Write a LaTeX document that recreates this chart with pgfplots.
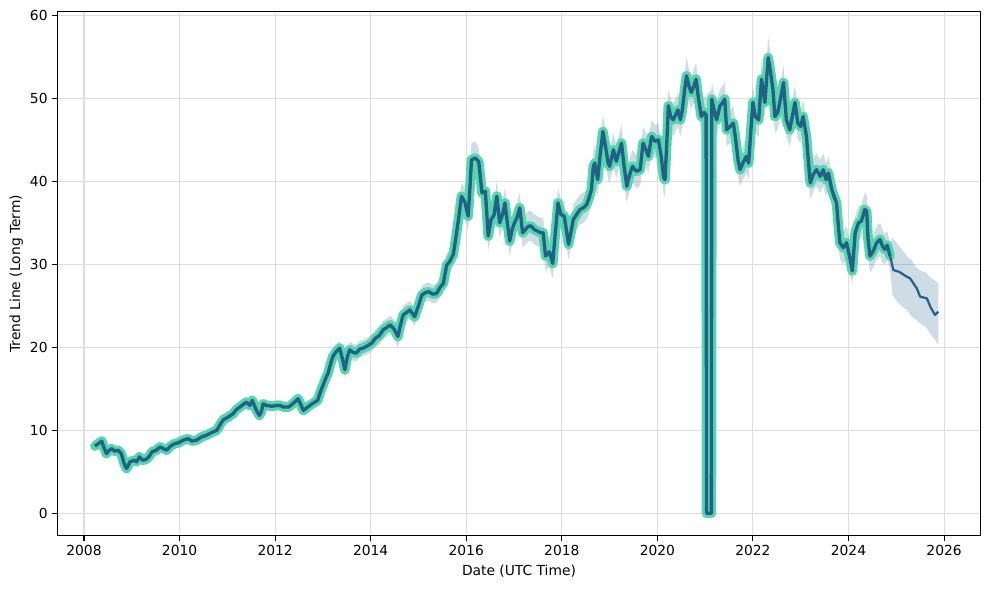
\documentclass[border=0pt]{standalone}
\usepackage{fontspec}
\setmainfont{DejaVu Sans}
\usepackage{pgfplots}
\usepackage{pgfplotstable}
\pgfplotsset{compat=1.18}
\usepgfplotslibrary{fillbetween}
\usetikzlibrary{calc}
\definecolor{darkline}{RGB}{33,96,135}
\definecolor{halo}{RGB}{86,214,172}
\definecolor{gridc}{RGB}{222,222,222}

\pgfplotstableread{
x y lo hi
2008.23 8.1 7.7 8.6
2008.30 8.4 7.9 8.9
2008.37 8.7 8.2 9.2
2008.42 7.9 7.4 8.4
2008.47 7.2 6.7 7.7
2008.53 7.6 7.1 8.1
2008.58 7.8 7.3 8.3
2008.64 7.5 7.0 8.0
2008.71 7.6 7.1 8.1
2008.78 7.2 6.7 7.7
2008.84 6.0 5.5 6.5
2008.89 5.4 4.9 5.9
2008.93 5.8 5.3 6.3
2008.96 6.2 5.7 6.7
2009.05 6.4 5.9 6.9
2009.10 6.2 5.7 6.7
2009.16 6.8 6.3 7.3
2009.23 6.4 5.9 6.9
2009.30 6.5 6.0 7.0
2009.37 6.9 6.4 7.4
2009.42 7.4 6.9 7.9
2009.51 7.6 7.1 8.1
2009.59 8.0 7.5 8.5
2009.66 7.8 7.3 8.3
2009.73 7.6 7.1 8.1
2009.81 8.1 7.6 8.6
2009.90 8.4 7.9 8.9
2009.98 8.5 8.0 9.0
2010.07 8.8 8.3 9.3
2010.18 9.0 8.5 9.5
2010.26 8.7 8.2 9.2
2010.35 8.8 8.3 9.3
2010.46 9.2 8.7 9.7
2010.56 9.4 8.9 9.9
2010.66 9.7 9.2 10.2
2010.78 10.0 9.5 10.5
2010.86 10.8 10.2 11.4
2010.92 11.3 10.7 11.9
2011.02 11.6 11.0 12.2
2011.12 12.0 11.4 12.6
2011.19 12.5 11.9 13.1
2011.26 12.8 12.2 13.4
2011.33 13.1 12.5 13.7
2011.40 13.4 12.8 14.0
2011.47 13.0 12.4 13.6
2011.52 13.6 13.0 14.2
2011.61 12.4 11.8 13.0
2011.67 11.8 11.2 12.4
2011.71 12.2 11.6 12.8
2011.75 13.2 12.6 13.8
2011.82 13.0 12.4 13.6
2011.93 12.9 12.3 13.5
2012.04 13.0 12.4 13.6
2012.10 13.0 12.4 13.6
2012.18 12.8 12.2 13.4
2012.28 12.8 12.2 13.4
2012.37 13.2 12.6 13.8
2012.48 13.8 13.2 14.4
2012.53 13.2 12.6 13.8
2012.59 12.4 11.8 13.0
2012.68 12.8 12.2 13.4
2012.75 13.1 12.5 13.7
2012.83 13.4 12.8 14.0
2012.89 13.6 13.0 14.2
2012.94 14.5 13.9 15.1
2013.00 15.4 14.7 16.1
2013.06 16.3 15.5 17.1
2013.11 16.9 16.0 17.8
2013.16 18.0 17.1 18.9
2013.21 18.9 18.0 19.8
2013.28 19.5 18.6 20.4
2013.35 19.9 19.0 20.8
2013.41 18.6 17.6 19.6
2013.46 17.3 16.3 18.3
2013.51 18.8 17.8 19.8
2013.56 19.7 18.7 20.7
2013.63 19.4 18.4 20.4
2013.70 19.3 18.3 20.3
2013.77 19.8 18.8 20.8
2013.84 19.9 18.9 20.9
2013.94 20.2 19.2 21.2
2014.02 20.5 19.5 21.5
2014.10 21.1 20.0 22.2
2014.18 21.4 20.3 22.5
2014.26 22.1 21.0 23.2
2014.34 22.4 21.3 23.5
2014.41 22.7 21.6 23.8
2014.49 22.2 21.1 23.3
2014.57 21.3 20.0 22.4
2014.62 22.6 21.5 23.7
2014.68 23.9 22.8 25.0
2014.75 24.2 23.1 25.3
2014.82 24.5 23.4 25.6
2014.92 23.7 22.6 24.8
2015.00 25.0 23.9 26.1
2015.07 26.3 25.2 27.4
2015.15 26.6 25.5 27.7
2015.22 26.7 25.6 27.8
2015.30 26.4 25.3 27.5
2015.38 26.5 25.4 27.6
2015.45 27.2 26.0 28.4
2015.52 27.7 26.5 28.9
2015.59 29.9 28.5 31.3
2015.65 30.3 28.9 31.7
2015.73 31.2 29.8 32.6
2015.79 33.5 32.0 35.0
2015.84 35.5 34.0 37.0
2015.90 38.2 36.6 39.8
2015.97 37.5 35.9 39.1
2016.04 35.8 34.0 37.6
2016.08 39.5 37.8 41.5
2016.11 42.6 40.8 44.6
2016.19 42.8 41.0 44.8
2016.26 42.4 40.6 44.0
2016.33 38.6 36.8 40.2
2016.40 38.8 37.0 40.6
2016.46 33.4 31.6 35.0
2016.52 35.4 33.6 37.2
2016.58 35.9 34.1 37.7
2016.64 38.2 36.4 40.0
2016.70 35.0 33.2 36.8
2016.76 36.0 34.2 37.8
2016.81 37.4 35.6 39.2
2016.86 35.0 33.2 36.8
2016.91 32.8 31.0 34.6
2016.96 34.2 32.4 36.0
2017.01 35.0 33.2 36.8
2017.06 35.6 33.8 37.4
2017.12 36.8 35.0 38.6
2017.18 33.8 32.0 35.6
2017.24 34.2 32.4 36.0
2017.30 34.6 32.8 36.4
2017.36 34.6 32.8 36.4
2017.42 34.2 32.4 36.0
2017.49 34.0 32.2 35.8
2017.56 33.8 32.0 35.6
2017.61 33.8 32.0 35.6
2017.66 31.0 29.2 32.8
2017.74 31.5 29.7 33.3
2017.81 30.1 28.3 31.9
2017.86 33.5 31.7 35.3
2017.92 37.4 35.6 39.2
2017.98 36.0 34.2 37.8
2018.05 35.8 34.0 37.6
2018.10 34.0 32.2 35.8
2018.14 32.4 30.6 34.2
2018.19 33.8 32.0 35.6
2018.24 35.4 33.6 37.2
2018.31 36.0 34.2 37.8
2018.38 36.6 34.8 38.4
2018.45 36.8 35.0 38.6
2018.52 37.2 35.4 39.0
2018.57 38.0 36.2 39.8
2018.62 39.0 37.0 41.0
2018.66 41.8 39.8 43.8
2018.69 42.2 40.2 44.4
2018.75 40.2 38.2 42.2
2018.80 43.0 41.0 45.0
2018.86 46.0 44.0 48.0
2018.92 44.0 42.0 46.0
2018.97 42.2 40.2 44.2
2019.00 41.8 39.8 43.8
2019.05 43.0 41.0 45.0
2019.08 43.8 41.8 45.8
2019.14 42.4 40.4 44.4
2019.18 43.2 41.2 45.2
2019.25 44.6 42.6 46.8
2019.30 42.0 40.0 44.0
2019.36 39.4 37.4 41.4
2019.42 40.8 38.8 42.8
2019.48 41.8 39.8 43.8
2019.56 41.2 39.2 43.2
2019.64 41.4 39.4 43.4
2019.70 44.6 42.6 46.6
2019.76 43.8 41.8 45.8
2019.81 43.0 41.0 45.0
2019.88 45.4 43.4 47.4
2019.95 44.8 42.8 46.8
2020.02 45.0 43.0 47.0
2020.08 43.0 41.0 45.0
2020.13 40.5 38.5 42.5
2020.16 40.2 38.2 42.2
2020.20 45.0 43.0 47.0
2020.23 49.1 47.1 51.1
2020.28 47.8 45.8 49.8
2020.33 47.4 45.4 49.4
2020.38 48.0 46.0 50.0
2020.43 48.6 46.6 50.6
2020.48 47.4 45.4 49.4
2020.52 48.5 46.5 50.5
2020.57 51.0 49.0 53.0
2020.61 52.7 50.5 55.0
2020.66 51.5 49.5 53.5
2020.71 50.7 48.7 52.7
2020.76 51.4 49.4 53.4
2020.81 52.3 50.3 54.3
2020.86 50.0 48.0 52.0
2020.92 47.8 45.8 49.8
2020.98 48.3 46.3 50.3
2021.02 48.0 46.0 50.0
2021.03 0 46.0 50.5
2021.13 0 46.5 51.0
2021.14 49.9 47.9 51.9
2021.19 48.5 46.5 50.5
2021.24 47.4 45.4 49.4
2021.31 49.1 47.1 51.1
2021.37 49.5 47.5 51.5
2021.41 49.9 47.9 51.9
2021.45 46.2 44.2 48.2
2021.52 46.6 44.6 48.6
2021.59 47.0 45.0 49.0
2021.64 45.0 43.0 47.0
2021.69 42.5 40.5 44.5
2021.73 41.4 39.4 43.4
2021.79 42.2 40.2 44.2
2021.86 43.0 41.0 45.0
2021.91 42.2 40.2 44.2
2021.95 45.5 43.5 47.5
2022.00 49.5 47.5 51.5
2022.05 47.8 45.8 49.8
2022.12 47.4 45.4 49.4
2022.18 52.3 50.3 54.5
2022.25 49.5 47.5 51.5
2022.32 54.9 52.7 57.5
2022.37 53.1 51.1 55.1
2022.42 51.0 49.0 53.0
2022.46 47.8 45.8 49.8
2022.52 48.3 46.3 50.3
2022.58 50.0 48.0 52.0
2022.64 51.9 49.9 54.0
2022.70 47.4 45.4 49.4
2022.77 46.2 44.2 48.2
2022.83 48.0 46.0 50.0
2022.88 49.5 47.5 51.5
2022.94 47.0 45.0 49.0
2023.00 46.6 44.6 48.6
2023.05 47.8 45.8 49.8
2023.12 45.4 43.4 47.4
2023.16 42.5 40.5 44.5
2023.20 39.8 37.8 41.8
2023.26 40.8 38.8 42.8
2023.33 41.4 39.4 43.4
2023.41 40.6 38.6 42.6
2023.47 41.4 39.4 43.4
2023.53 40.2 38.2 42.2
2023.58 41.0 39.0 43.0
2023.65 39.0 37.0 41.0
2023.71 38.0 36.0 40.0
2023.75 37.4 35.4 39.4
2023.79 34.5 32.5 36.5
2023.82 32.6 30.6 34.6
2023.89 32.0 30.0 34.0
2023.96 32.6 30.6 34.6
2024.02 31.0 29.0 33.0
2024.08 29.2 27.6 31.0
2024.14 33.8 31.8 35.8
2024.21 35.0 33.0 37.0
2024.27 35.2 33.2 37.2
2024.34 36.6 34.6 38.6
2024.38 36.4 34.4 38.4
2024.41 33.0 31.0 35.0
2024.45 31.0 29.0 33.0
2024.51 31.5 29.5 33.5
2024.59 32.6 30.6 34.6
2024.66 33.0 31.0 35.0
2024.71 32.2 30.2 34.2
2024.76 31.8 30.0 33.6
2024.81 32.3 30.5 34.0
2024.87 31.0 29.4 32.6
}\hist

\pgfplotstableread{
x y
2024.87 31.0
2024.94 29.3
2025.06 29.1
2025.22 28.5
2025.29 28.3
2025.36 27.7
2025.43 27.1
2025.50 26.1
2025.57 26.0
2025.64 25.9
2025.72 24.8
2025.81 23.9
2025.88 24.3
}\fcline

\pgfplotstableread{
x lo hi
2024.87 29.4 32.6
2024.92 26.3 33.2
2025.02 25.5 32.5
2025.12 24.9 31.8
2025.22 24.5 31.0
2025.32 23.7 30.5
2025.42 23.3 29.6
2025.52 22.8 29.2
2025.62 22.4 29.0
2025.72 21.6 28.4
2025.82 20.8 28.0
2025.88 20.3 27.7
}\fcband

\begin{document}
\begin{tikzpicture}
\begin{axis}[
  scale only axis,
  width=667.3pt, height=378.7pt,
  xmin=2007.441, xmax=2026.767,
  ymin=-2.70, ymax=60.43,
  xtick={2008,2010,2012,2014,2016,2018,2020,2022,2024,2026},
  ytick={0,10,20,30,40,50,60},
  xticklabel style={/pgf/number format/1000 sep={}},
  /pgf/number format/assume math mode=true,
  tick label style={font=\fontsize{10}{12}\selectfont},
  label style={font=\fontsize{10}{12}\selectfont},
  xlabel={Date (UTC Time)},
  ylabel={Trend Line (Long Term)},
  every axis x label/.style={at={(axis description cs:0.5,-0.0666)}, anchor=center},
  every axis y label/.style={at={(axis description cs:-0.0444,0.5)}, anchor=center, rotate=90},
  tick align=outside,
  xtick pos=lower, ytick pos=left,
  major tick length=3.5pt,
  every tick/.style={black, line width=0.8pt},
  axis line style={line width=0.8pt},
  grid=major,
  major grid style={gridc, line width=0.8pt},
]
\addplot[draw=none, name path=hu, forget plot] table[x=x, y=hi] {\hist};
\addplot[draw=none, name path=hl, forget plot] table[x=x, y=lo] {\hist};
\addplot[fill=darkline, fill opacity=0.22, draw=none] fill between[of=hu and hl];
\addplot[draw=none, name path=fu, forget plot] table[x=x, y=hi] {\fcband};
\addplot[draw=none, name path=fl, forget plot] table[x=x, y=lo] {\fcband};
\addplot[fill=darkline, fill opacity=0.22, draw=none] fill between[of=fu and fl];
\addplot[halo, line width=7pt, line join=round, line cap=round, no marks] table[x=x, y=y] {\hist};
\addplot[darkline, line width=2.4pt, line join=round, no marks] table[x=x, y=y] {\hist};
\addplot[darkline, line width=1.6pt, line join=round, no marks] table[x=x, y=y] {\fcline};
\end{axis}
\pgfresetboundingbox
\path ($(current axis.south west)+(-41.4pt,-38.5pt)$) rectangle ($(current axis.north east)+(6.0pt,8.46pt)$);
\end{tikzpicture}
\end{document}
